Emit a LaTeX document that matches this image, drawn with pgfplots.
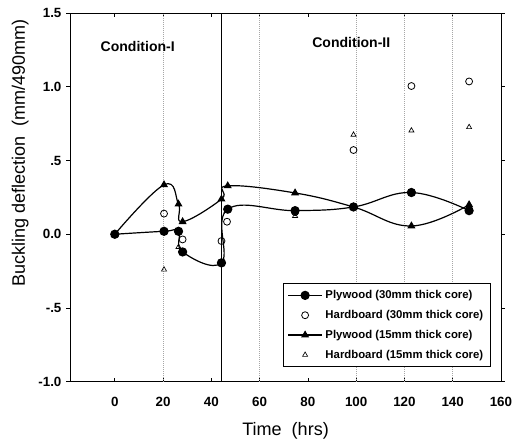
\documentclass[border=0pt]{standalone}
\usepackage{fontspec}
\setmainfont{Liberation Sans}
\usepackage{pgfplots}
\pgfplotsset{compat=1.18}

\begin{document}
\begin{tikzpicture}
\begin{axis}[
  width=322.5pt, height=276pt, scale only axis,
  xmin=-18.5, xmax=160, ymin=-1, ymax=1.5,
  xtick={0,20,...,160},
  ytick={-1,-0.5,0,0.5,1,1.5},
  yticklabels={-1.0,-.5,0.0,.5,1.0,1.5},
  /pgf/number format/assume math mode=true,
  tick label style={font=\fontsize{10}{11}\selectfont\bfseries},
  x tick label style={yshift=-8pt},
  xtick align=inside, ytick align=outside,
  major tick length=3pt,
  tick style={black, line width=0.5pt},
  axis line style={line width=0.6pt},
  xlabel={Time\ \ (hrs)},
  ylabel={Buckling deflection\ \ (mm/490mm)},
  label style={font=\fontsize{13.5}{15}\selectfont},
  xlabel style={at={(rel axis cs:0.5,-0.133)}, anchor=center},
  ylabel style={at={(rel axis cs:-0.116,0.62)}, anchor=center},
  legend style={at={(0.975,0.04)}, anchor=south east, draw=black,
    font=\fontsize{8.5}{10}\selectfont\bfseries,
    cells={anchor=west}, row sep=3.2pt, inner ysep=3pt},
  legend image code/.code={
    \draw[mark repeat=2, mark phase=2]
      plot coordinates {(0cm,0cm) (0.45cm,0cm) (0.9cm,0cm)};},
  clip=false,
]
% guide lines
\foreach \t in {20,60,100,120,140}{
  \edef\temp{\noexpand\draw[densely dotted, gray!70, line width=0.5pt]
    (axis cs:\t,-1) -- (axis cs:\t,1.5);}
  \temp
}
\draw[line width=0.6pt] (axis cs:44,-1) -- (axis cs:44,1.5);

% Plywood, 30 mm core
\addplot[black, line width=0.9pt, smooth, tension=0.7,
  mark=*, mark size=3pt, mark options={solid, fill=black}]
  coordinates {(0,0) (20.4,0.02) (26.4,0.02) (28.1,-0.12) (44.2,-0.194)
    (46.8,0.17) (74.7,0.16) (98.9,0.185) (122.9,0.283) (146.8,0.16)};
\addlegendentry{Plywood (30mm thick core)}

% Hardboard, 30 mm core
\addplot[only marks, black, line width=0.6pt,
  mark=o, mark size=2.6pt, mark options={fill=white}]
  coordinates {(0,0) (20.4,0.14) (26.4,0.02) (28.1,-0.035) (44.2,-0.046)
    (46.5,0.085) (74.7,0.15) (98.9,0.571) (122.9,1.005) (146.8,1.036)};
\addlegendentry{Hardboard (30mm thick core)}

% Plywood, 15 mm core
\addplot[black, line width=0.9pt, smooth, tension=0.7,
  mark=triangle*, mark size=2.6pt, mark options={solid, fill=black}]
  coordinates {(0,0) (20.4,0.335) (26.4,0.204) (28.1,0.085) (44.2,0.238)
    (46.8,0.328) (74.7,0.28) (98.9,0.185) (122.9,0.056) (146.8,0.2)};
\addlegendentry{Plywood (15mm thick core)}

% Hardboard, 15 mm core
\addplot[only marks, black, line width=0.5pt,
  mark=triangle, mark size=2.2pt, mark options={fill=white}]
  coordinates {(20.4,-0.24) (26.4,-0.087) (28.1,0.085) (46.3,0.158)
    (74.7,0.124) (98.9,0.674) (122.9,0.703) (146.8,0.726)};
\addlegendentry{Hardboard (15mm thick core)}

\node[font=\fontsize{10.5}{12}\selectfont\bfseries] at (axis cs:9.5,1.27) {Condition-I};
\node[font=\fontsize{10.5}{12}\selectfont\bfseries] at (axis cs:98,1.30) {Condition-II};
\end{axis}
\pgfresetboundingbox
\useasboundingbox ([shift={(-52.5pt,-48pt)}]current axis.south west)
  rectangle ([shift={(13.5pt,9.75pt)}]current axis.north east);
\end{tikzpicture}
\end{document}
